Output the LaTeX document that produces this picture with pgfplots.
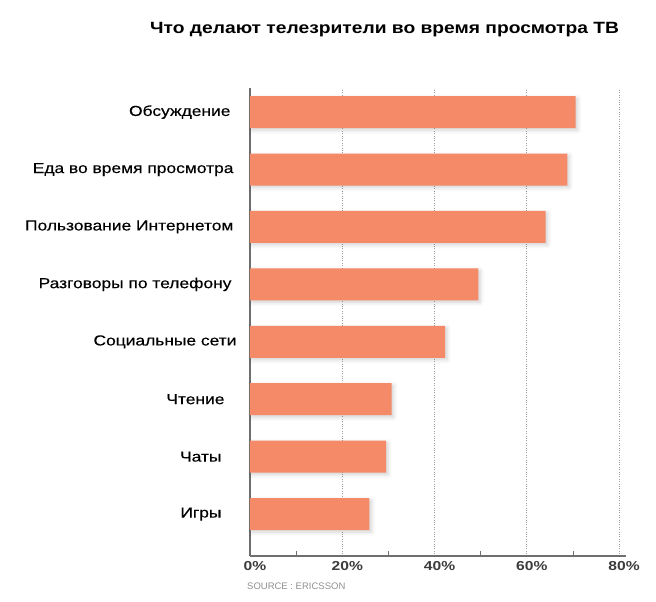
\documentclass[border=0pt]{standalone}
\usepackage{fontspec}
\setmainfont{Liberation Sans}
\newfontfamily\labfont[FakeStretch=1.2,FakeBold=0.3]{Liberation Sans}
\newfontfamily\tickfont[FakeStretch=1.2]{Liberation Sans}
\newfontfamily\titlefont[FakeStretch=1.18]{Liberation Sans}
\usepackage{pgfplots}
\pgfplotsset{compat=1.18}
\usetikzlibrary{shadows.blur}

\definecolor{barcol}{RGB}{244,138,104}
\definecolor{axiscol}{RGB}{110,110,110}
\definecolor{gridcol}{RGB}{160,160,160}
\definecolor{tickcol}{RGB}{60,60,60}

\pgfplotstableread{
pos value
0 25.9
1 29.5
2 30.7
3 42.3
4 49.5
5 64.1
6 68.8
7 70.6
}\datatable

\begin{document}
\begin{tikzpicture}
\useasboundingbox (-250pt,-46pt) rectangle (406pt,556pt);
\begin{axis}[
  at={(0pt,0pt)}, anchor=south west,
  scale only axis,
  width=376pt, height=468pt,
  xbar, bar width=32pt,
  xmin=0, xmax=81.5,
  ymin=-0.73, ymax=7.42,
  axis lines=left,
  axis line style={-, draw=axiscol, line width=1.2pt},
  xtick={0,20,40,60,80},
  xticklabels={0\%,20\%,40\%,60\%,80\%},
  minor xtick={10,30,50,70},
  major tick length=0pt,
  minor tick length=5pt,
  tick align=inside,
  minor tick style={draw=axiscol, line width=0.8pt},
  xmajorgrids,
  major grid style={draw=gridcol, dotted, line width=0.7pt},
  xticklabel style={font=\tickfont\bfseries\fontsize{13}{13}\selectfont, text=tickcol, xshift=5pt, yshift=-2pt},
  ytick={0,...,7},
  yticklabels={Игры\kern12pt,Чаты\kern12pt,Чтение\kern9pt,Социальные сети\kern-3pt,Разговоры по телефону\kern2pt,Пользование Интернетом,Еда во время просмотра,Обсуждение\kern3pt},
  yticklabel style={font=\labfont\fontsize{14.5}{14.5}\selectfont, text=black, anchor=east, xshift=-13pt},
  ytick style={draw=none},
  clip=false,
]
\addplot[fill=barcol, draw=none,
  blur shadow={shadow xshift=2pt, shadow yshift=-2pt, shadow blur steps=6, shadow opacity=18, shadow blur radius=4pt}]
  table[x=value, y=pos] {\datatable};
\node[font=\titlefont\bfseries\fontsize{16.3}{16.3}\selectfont, anchor=center] at (rel axis cs:0.358,1.124) {Что делают телезрители во время просмотра ТВ};
\node[font=\fontsize{9.5}{9.5}\selectfont, text=gridcol!90!black, anchor=west, inner sep=0pt] at (rel axis cs:-0.008,-0.064) {SOURCE : ERICSSON};
\end{axis}
\end{tikzpicture}
\end{document}
